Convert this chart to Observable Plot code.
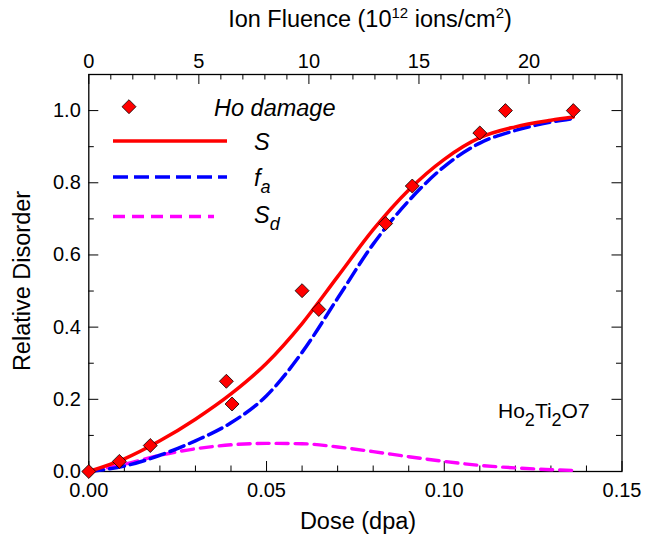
<!DOCTYPE html>
<html><head><meta charset="utf-8">
<script src="https://cdn.jsdelivr.net/npm/d3@7"></script>
<script src="https://cdn.jsdelivr.net/npm/@observablehq/plot@0.6"></script>
<style>
body{margin:0;background:#fff;}
#chart{width:646px;height:536px;}
</style></head><body><div id="chart"></div>
<script>
// ---- data ----
const pointDose = [0, 0.0086, 0.0173, 0.0387, 0.0403, 0.0600, 0.0647, 0.0835, 0.0910, 0.1100, 0.1172, 0.1363];
const pointDisorder = [0, 0.028, 0.072, 0.250, 0.187, 0.501, 0.449, 0.687, 0.791, 0.938, 1.0, 1.0];

const curveDose = [0, 0.01, 0.02, 0.03, 0.04, 0.05, 0.06, 0.07, 0.08, 0.09, 0.10, 0.11, 0.12, 0.13, 0.1363];
const sTotal   = [0, 0.035, 0.085, 0.145, 0.215, 0.30, 0.41, 0.54, 0.67, 0.78, 0.865, 0.925, 0.955, 0.973, 0.982];
const fAmorph  = [0, 0.015, 0.045, 0.085, 0.135, 0.21, 0.33, 0.48, 0.63, 0.75, 0.845, 0.91, 0.945, 0.968, 0.978];
const sDefect  = [0, 0.020, 0.045, 0.063, 0.074, 0.078, 0.077, 0.068, 0.055, 0.041, 0.028, 0.017, 0.010, 0.005, 0.003];

const doseTicks = [0, 0.05, 0.10, 0.15];
const doseMinorTicks = [0.01, 0.02, 0.03, 0.04, 0.06, 0.07, 0.08, 0.09, 0.11, 0.12, 0.13, 0.14];
const disorderTicks = [0, 0.2, 0.4, 0.6, 0.8, 1.0];
const disorderMinorTicks = [0.1, 0.3, 0.5, 0.7, 0.9];
const fluenceTicks = [0, 5, 10, 15, 20];
const fluenceMinorTicks = [1,2,3,4,6,7,8,9,11,12,13,14,16,17,18,19,21,22,23,24];
const fluencePerDpa = 161.5; // 10^12 ions/cm^2 per dpa

// ---- layout ----
const W = 646, H = 536, mL = 88.3, mR = 24.5, mT = 74, mB = 65;
const plotH = H - mT - mB, plotW = W - mL - mR;
const major = 10, minor = 5.5;
const font = "'Liberation Sans', Arial, Helvetica, sans-serif";

const points = pointDose.map((d, i) => ({dose: d, v: pointDisorder[i]}));
const curves = curveDose.map((d, i) => ({dose: d, s: sTotal[i], fa: fAmorph[i], sd: sDefect[i]}));
const toDose = f => f / fluencePerDpa;

const chart = Plot.plot({
  width: W, height: H,
  marginLeft: mL, marginRight: mR, marginTop: mT, marginBottom: mB,
  style: {fontFamily: font, fontSize: "20px", color: "#000", background: "#fff"},
  x: {domain: [0, 0.15]},
  y: {domain: [0, 1.1]},
  marks: [
    Plot.frame({stroke: "#000", strokeWidth: 1.3}),
    // inward ticks, bottom (dose)
    Plot.ruleX(doseMinorTicks, {x: d => d, insetTop: plotH - minor, stroke: "#000"}),
    Plot.ruleX(doseTicks, {x: d => d, insetTop: plotH - major, stroke: "#000"}),
    // inward ticks, top (fluence)
    Plot.ruleX(fluenceMinorTicks, {x: toDose, insetBottom: plotH - minor, stroke: "#000"}),
    Plot.ruleX(fluenceTicks, {x: toDose, insetBottom: plotH - major, stroke: "#000"}),
    // inward ticks, left & right
    Plot.ruleY(disorderMinorTicks, {y: d => d, insetRight: plotW - minor, stroke: "#000"}),
    Plot.ruleY(disorderTicks, {y: d => d, insetRight: plotW - major, stroke: "#000"}),
    Plot.ruleY(disorderMinorTicks, {y: d => d, insetLeft: plotW - minor, stroke: "#000"}),
    Plot.ruleY(disorderTicks, {y: d => d, insetLeft: plotW - major, stroke: "#000"}),
    // tick labels
    Plot.axisX({anchor: "bottom", ticks: doseTicks, tickSize: 0, tickPadding: 11, tickFormat: d3.format(".2f"), label: null}),
    Plot.axisX({anchor: "top", ticks: fluenceTicks.map(toDose), tickSize: 0, tickPadding: 7, tickFormat: d => String(Math.round(d * fluencePerDpa)), label: null}),
    Plot.axisY({anchor: "left", ticks: disorderTicks, tickSize: 0, tickPadding: 8, tickFormat: d3.format(".1f"), label: null}),
    // curves
    Plot.line(curves, {x: "dose", y: "sd", stroke: "#ff00ff", strokeWidth: 3.4, strokeDasharray: "12,7", curve: "monotone-x"}),
    Plot.line(curves, {x: "dose", y: "fa", stroke: "#0000ff", strokeWidth: 3.5, strokeDasharray: "15,6", curve: "monotone-x"}),
    Plot.line(curves, {x: "dose", y: "s", stroke: "#ff0000", strokeWidth: 3.5, curve: "monotone-x"}),
    // data points
    Plot.dot(points, {x: "dose", y: "v", symbol: "diamond2", r: 6.3, fill: "#ff0000", stroke: "#000", strokeWidth: 0.8})
  ]
});
document.getElementById("chart").appendChild(chart);

// ---- titles, legend, annotation ----
const svg = d3.select(chart);
const g = svg.append("g").attr("font-family", font).attr("fill", "#000").attr("text-anchor", "start");

g.append("text").attr("x", 358).attr("y", 529).attr("text-anchor", "middle")
  .attr("font-size", 23.5).text("Dose (dpa)");

g.append("text").attr("transform", "translate(30,281) rotate(-90)")
  .attr("text-anchor", "middle").attr("font-size", 23.5).text("Relative Disorder");

const topTitle = g.append("text").attr("x", 370).attr("y", 27).attr("text-anchor", "middle").attr("font-size", 23.5);
topTitle.append("tspan").text("Ion Fluence (10");
topTitle.append("tspan").attr("dy", -9).attr("font-size", 15).text("12");
topTitle.append("tspan").attr("dy", 9).text(" ions/cm");
topTitle.append("tspan").attr("dy", -9).attr("font-size", 15).text("2");
topTitle.append("tspan").attr("dy", 9).text(")");

// legend
const lg = g.append("g").attr("font-size", 23.5).attr("font-style", "italic");
lg.append("path").attr("d", d3.symbol(d3.symbolDiamond2, Math.PI * 6.3 * 6.3)())
  .attr("transform", "translate(129,106.7)").attr("fill", "#ff0000").attr("stroke", "#000").attr("stroke-width", 0.8);
lg.append("text").attr("x", 214).attr("y", 116).text("Ho damage");
lg.append("line").attr("x1", 113).attr("x2", 227).attr("y1", 141).attr("y2", 141)
  .attr("stroke", "#ff0000").attr("stroke-width", 3.5);
lg.append("line").attr("x1", 113).attr("x2", 227).attr("y1", 177).attr("y2", 177)
  .attr("stroke", "#0000ff").attr("stroke-width", 3.5).attr("stroke-dasharray", "15,6");
lg.append("line").attr("x1", 113).attr("x2", 214).attr("y1", 216.5).attr("y2", 216.5)
  .attr("stroke", "#ff00ff").attr("stroke-width", 3.4).attr("stroke-dasharray", "12,7");
lg.append("text").attr("x", 254).attr("y", 150).text("S");
const faLabel = lg.append("text").attr("x", 254).attr("y", 186);
faLabel.append("tspan").text("f");
faLabel.append("tspan").attr("dy", 7).attr("font-size", 18).text("a");
const sdLabel = lg.append("text").attr("x", 254).attr("y", 223);
sdLabel.append("tspan").text("S");
sdLabel.append("tspan").attr("dy", 7).attr("font-size", 18).text("d");

// compound label
const comp = g.append("text").attr("x", 498).attr("y", 418).attr("font-size", 21);
comp.append("tspan").text("Ho");
comp.append("tspan").attr("dy", 8).attr("font-size", 18).text("2");
comp.append("tspan").attr("dy", -8).text("Ti");
comp.append("tspan").attr("dy", 8).attr("font-size", 18).text("2");
comp.append("tspan").attr("dy", -8).text("O7");
</script></body></html>
